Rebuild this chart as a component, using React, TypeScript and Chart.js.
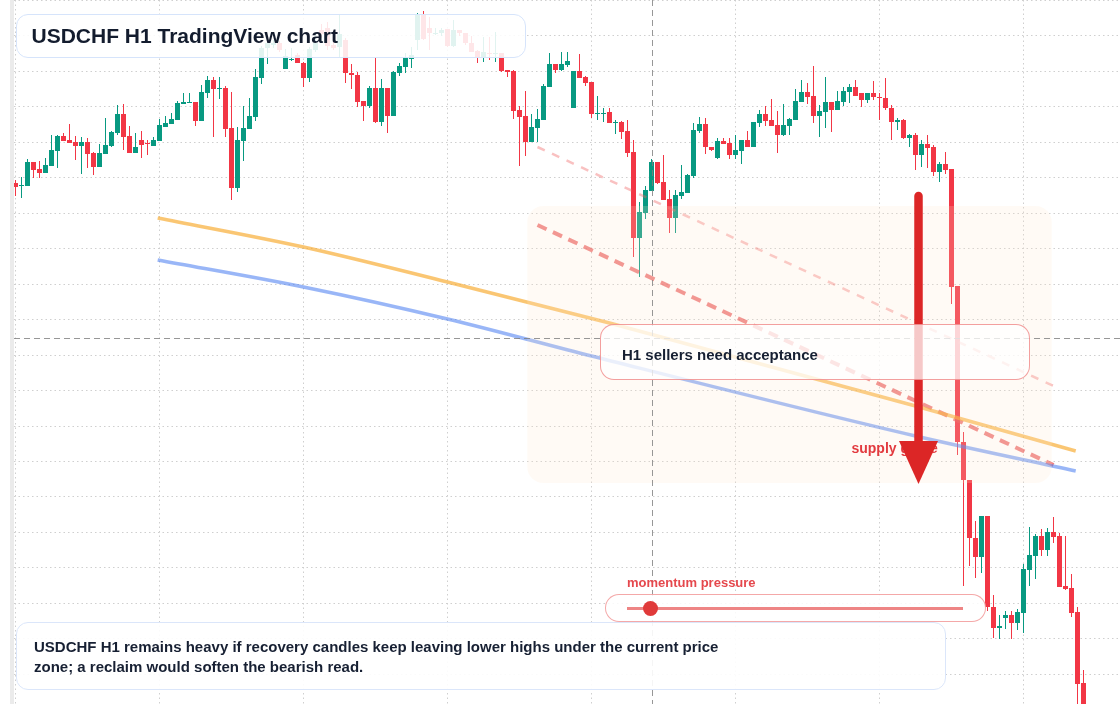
import { useEffect, useRef } from "react"
import { Chart, registerables } from "chart.js"

Chart.register(...registerables)

// USDCHF H1 candles (one candle per hour)
const opens = [
    0.80117, 0.80114, 0.80114, 0.80138, 0.80131, 0.80127, 0.80134, 0.80149, 0.80164, 0.80160,
    0.80158, 0.80154, 0.80158, 0.80147, 0.80133, 0.80146, 0.80154, 0.80167, 0.80186, 0.80164,
    0.80147, 0.80160, 0.80157, 0.80154, 0.80159, 0.80173, 0.80176, 0.80180, 0.80196, 0.80197,
    0.80198, 0.80179, 0.80207, 0.80220, 0.80211, 0.80212, 0.80172, 0.80112, 0.80159, 0.80171,
    0.80183, 0.80222, 0.80252, 0.80255, 0.80257, 0.80231, 0.80240, 0.80245, 0.80237, 0.80222,
    0.80250, 0.80270, 0.80272, 0.80255, 0.80253, 0.80260, 0.80227, 0.80225, 0.80199, 0.80194,
    0.80212, 0.80178, 0.80212, 0.80184, 0.80227, 0.80233, 0.80241, 0.80260, 0.80285, 0.80272,
    0.80266, 0.80267, 0.80271, 0.80254, 0.80270, 0.80267, 0.80257, 0.80249, 0.80242, 0.80247,
    0.80246, 0.80247, 0.80230, 0.80229, 0.80190, 0.80184, 0.80158, 0.80172, 0.80180, 0.80213,
    0.80236, 0.80230, 0.80235, 0.80192, 0.80229, 0.80223, 0.80218, 0.80186, 0.80186, 0.80188,
    0.80177, 0.80178, 0.80169, 0.80148, 0.80062, 0.80087, 0.80109, 0.80138, 0.80118, 0.80101,
    0.80082, 0.80104, 0.80107, 0.80124, 0.80169, 0.80176, 0.80153, 0.80142, 0.80159, 0.80157,
    0.80145, 0.80149, 0.80160, 0.80153, 0.80177, 0.80186, 0.80180, 0.80175, 0.80165, 0.80174,
    0.80180, 0.80198, 0.80208, 0.80204, 0.80184, 0.80188, 0.80198, 0.80190, 0.80198, 0.80208,
    0.80213, 0.80207, 0.80200, 0.80207, 0.80203, 0.80202, 0.80192, 0.80178, 0.80180, 0.80162,
    0.80165, 0.80145, 0.80156, 0.80153, 0.80128, 0.80136, 0.80131, 0.80014, 0.79858, 0.79820,
    0.79762, 0.79743, 0.79784, 0.79693, 0.79672, 0.79682, 0.79685, 0.79677, 0.79687, 0.79730,
    0.79744, 0.79764, 0.79750, 0.79768, 0.79764, 0.79714, 0.79712, 0.79688, 0.79617
]

const highs = [
    0.80120, 0.80123, 0.80141, 0.80138, 0.80139, 0.80142, 0.80165, 0.80165, 0.80167, 0.80176,
    0.80164, 0.80163, 0.80162, 0.80148, 0.80156, 0.80182, 0.80169, 0.80195, 0.80196, 0.80174,
    0.80167, 0.80169, 0.80160, 0.80163, 0.80181, 0.80184, 0.80187, 0.80199, 0.80207, 0.80207,
    0.80198, 0.80215, 0.80224, 0.80223, 0.80223, 0.80214, 0.80208, 0.80173, 0.80194, 0.80202,
    0.80231, 0.80254, 0.80258, 0.80260, 0.80259, 0.80251, 0.80252, 0.80247, 0.80238, 0.80253,
    0.80268, 0.80276, 0.80278, 0.80260, 0.80285, 0.80262, 0.80236, 0.80228, 0.80199, 0.80214,
    0.80242, 0.80221, 0.80212, 0.80229, 0.80237, 0.80247, 0.80253, 0.80287, 0.80289, 0.80283,
    0.80272, 0.80272, 0.80271, 0.80280, 0.80270, 0.80267, 0.80264, 0.80250, 0.80263, 0.80263,
    0.80268, 0.80247, 0.80230, 0.80230, 0.80194, 0.80209, 0.80186, 0.80191, 0.80216, 0.80247,
    0.80236, 0.80248, 0.80248, 0.80229, 0.80246, 0.80224, 0.80218, 0.80204, 0.80192, 0.80192,
    0.80180, 0.80179, 0.80180, 0.80160, 0.80098, 0.80114, 0.80141, 0.80138, 0.80145, 0.80110,
    0.80110, 0.80135, 0.80126, 0.80177, 0.80183, 0.80182, 0.80153, 0.80162, 0.80162, 0.80162,
    0.80165, 0.80160, 0.80169, 0.80178, 0.80190, 0.80194, 0.80201, 0.80189, 0.80196, 0.80182,
    0.80211, 0.80220, 0.80217, 0.80234, 0.80195, 0.80223, 0.80198, 0.80209, 0.80213, 0.80216,
    0.80220, 0.80207, 0.80207, 0.80219, 0.80207, 0.80222, 0.80195, 0.80182, 0.80181, 0.80166,
    0.80167, 0.80160, 0.80165, 0.80155, 0.80138, 0.80148, 0.80131, 0.80014, 0.79868, 0.79820,
    0.79779, 0.79784, 0.79784, 0.79705, 0.79685, 0.79689, 0.79689, 0.79691, 0.79736, 0.79773,
    0.79766, 0.79771, 0.79772, 0.79783, 0.79767, 0.79764, 0.79726, 0.79693, 0.79630
]

const lows = [
    0.80104, 0.80102, 0.80114, 0.80122, 0.80122, 0.80127, 0.80134, 0.80132, 0.80159, 0.80157,
    0.80140, 0.80126, 0.80132, 0.80125, 0.80133, 0.80146, 0.80153, 0.80165, 0.80150, 0.80147,
    0.80147, 0.80142, 0.80145, 0.80154, 0.80159, 0.80173, 0.80176, 0.80180, 0.80196, 0.80197,
    0.80174, 0.80179, 0.80202, 0.80163, 0.80201, 0.80163, 0.80100, 0.80108, 0.80139, 0.80171,
    0.80179, 0.80216, 0.80236, 0.80252, 0.80248, 0.80231, 0.80239, 0.80237, 0.80213, 0.80218,
    0.80248, 0.80262, 0.80250, 0.80250, 0.80242, 0.80217, 0.80211, 0.80193, 0.80179, 0.80192,
    0.80177, 0.80174, 0.80167, 0.80184, 0.80224, 0.80227, 0.80232, 0.80250, 0.80260, 0.80250,
    0.80265, 0.80264, 0.80253, 0.80253, 0.80264, 0.80255, 0.80248, 0.80237, 0.80238, 0.80240,
    0.80238, 0.80228, 0.80223, 0.80181, 0.80134, 0.80144, 0.80158, 0.80158, 0.80180, 0.80213,
    0.80227, 0.80229, 0.80233, 0.80192, 0.80222, 0.80214, 0.80182, 0.80180, 0.80178, 0.80177,
    0.80166, 0.80161, 0.80143, 0.80043, 0.80023, 0.80081, 0.80109, 0.80116, 0.80100, 0.80067,
    0.80067, 0.80101, 0.80107, 0.80122, 0.80167, 0.80146, 0.80149, 0.80141, 0.80156, 0.80141,
    0.80141, 0.80136, 0.80153, 0.80153, 0.80173, 0.80174, 0.80174, 0.80147, 0.80164, 0.80165,
    0.80180, 0.80198, 0.80196, 0.80177, 0.80163, 0.80172, 0.80168, 0.80190, 0.80194, 0.80197,
    0.80204, 0.80193, 0.80197, 0.80200, 0.80180, 0.80190, 0.80160, 0.80170, 0.80161, 0.80153,
    0.80130, 0.80133, 0.80132, 0.80124, 0.80118, 0.80126, 0.79996, 0.79845, 0.79714, 0.79734,
    0.79722, 0.79727, 0.79689, 0.79662, 0.79661, 0.79671, 0.79661, 0.79670, 0.79667, 0.79714,
    0.79721, 0.79744, 0.79744, 0.79757, 0.79713, 0.79710, 0.79683, 0.79596, 0.79580
]

const closes = [
    0.80113, 0.80115, 0.80138, 0.80130, 0.80127, 0.80135, 0.80150, 0.80164, 0.80159, 0.80157,
    0.80154, 0.80158, 0.80146, 0.80133, 0.80147, 0.80155, 0.80168, 0.80186, 0.80163, 0.80147,
    0.80153, 0.80155, 0.80156, 0.80160, 0.80175, 0.80177, 0.80181, 0.80197, 0.80198, 0.80198,
    0.80179, 0.80208, 0.80220, 0.80211, 0.80212, 0.80171, 0.80112, 0.80160, 0.80172, 0.80184,
    0.80223, 0.80252, 0.80257, 0.80257, 0.80250, 0.80244, 0.80241, 0.80237, 0.80222, 0.80251,
    0.80257, 0.80266, 0.80254, 0.80252, 0.80266, 0.80227, 0.80225, 0.80198, 0.80194, 0.80212,
    0.80178, 0.80212, 0.80184, 0.80228, 0.80234, 0.80242, 0.80245, 0.80285, 0.80261, 0.80267,
    0.80267, 0.80270, 0.80254, 0.80270, 0.80267, 0.80257, 0.80248, 0.80242, 0.80248, 0.80246,
    0.80247, 0.80229, 0.80228, 0.80189, 0.80183, 0.80158, 0.80173, 0.80181, 0.80214, 0.80236,
    0.80230, 0.80236, 0.80239, 0.80229, 0.80222, 0.80217, 0.80186, 0.80187, 0.80187, 0.80177,
    0.80178, 0.80168, 0.80147, 0.80062, 0.80088, 0.80110, 0.80138, 0.80117, 0.80100, 0.80082,
    0.80105, 0.80108, 0.80125, 0.80170, 0.80176, 0.80153, 0.80150, 0.80159, 0.80156, 0.80145,
    0.80150, 0.80160, 0.80153, 0.80178, 0.80186, 0.80179, 0.80174, 0.80165, 0.80175, 0.80181,
    0.80199, 0.80208, 0.80203, 0.80184, 0.80189, 0.80198, 0.80190, 0.80199, 0.80209, 0.80213,
    0.80204, 0.80200, 0.80207, 0.80203, 0.80202, 0.80192, 0.80178, 0.80180, 0.80162, 0.80165,
    0.80145, 0.80156, 0.80152, 0.80128, 0.80136, 0.80130, 0.80013, 0.79858, 0.79820, 0.79762,
    0.79743, 0.79784, 0.79693, 0.79672, 0.79674, 0.79685, 0.79677, 0.79688, 0.79731, 0.79745,
    0.79764, 0.79750, 0.79768, 0.79763, 0.79713, 0.79711, 0.79687, 0.79616, 0.79585
]

// slow averages (orange / blue), as points along the candle index
const orangeIdx = [23.7, 48, 72, 99, 150, 176.7]
const orangeMa = [0.80082, 0.80053, 0.80018, 0.79977, 0.79894, 0.79849]
const blueIdx = [23.7, 48, 72, 96, 150, 176.7]
const blueMa = [0.80040, 0.80013, 0.79981, 0.79944, 0.79864, 0.79829]

// descending trend lines
const trendIdx = [87, 173]
const upperTrend = [0.80153, 0.79914]
const lowerTrend = [0.80075, 0.79835]

// supply zone, crosshair and arrow
const zoneIdx = [85.3, 172.7]
const zonePrice = [0.80094, 0.79817]
const crossIdx = 106
const crossPrice = 0.79962
const arrowIdx = 150.5
const arrowPrice = [0.80104, 0.79816]
const supplyLabelIdx = 139.33
const supplyLabelPrice = 0.79847
const momentum = 0.07

const hourGrid = [0, 24, 48, 72, 96, 120, 144, 168]
const priceGrid = [
    0.80300, 0.802645, 0.80229, 0.801935, 0.80158, 0.801225, 0.80087, 0.800515, 0.80016, 0.799805,
    0.79945, 0.799095, 0.79874, 0.798385, 0.79803, 0.797675, 0.79732, 0.796965, 0.79661, 0.796255
]

const BULL = "#089981"
const BEAR = "#f23645"
const FONT = '"Liberation Sans", Arial, Helvetica, sans-serif'

const overlayPlugin = {
    id: "chartOverlays",
    beforeDatasetsDraw(chart) {
        const { ctx } = chart
        ctx.save()
        ctx.fillStyle = "#ebebeb"
        ctx.fillRect(10, 0, 4, chart.height)
        ctx.restore()
    },
    afterDatasetsDraw(chart) {
        const { ctx, chartArea } = chart
        const x = chart.scales.x
        const y = chart.scales.y
        ctx.save()

        // supply zone
        const zx0 = x.getPixelForValue(zoneIdx[0])
        const zx1 = x.getPixelForValue(zoneIdx[1])
        const zy0 = y.getPixelForValue(zonePrice[0])
        const zy1 = y.getPixelForValue(zonePrice[1])
        ctx.fillStyle = "rgba(255, 228, 205, 0.2)"
        ctx.beginPath()
        ctx.roundRect(zx0, zy0, zx1 - zx0, zy1 - zy0, 16)
        ctx.fill()

        // crosshair
        const cx = Math.round(x.getPixelForValue(crossIdx)) + 0.5
        const cy = Math.round(y.getPixelForValue(crossPrice)) + 0.5
        ctx.strokeStyle = "rgba(125, 125, 125, 0.8)"
        ctx.lineWidth = 1
        ctx.setLineDash([6, 4])
        ctx.beginPath()
        ctx.moveTo(chartArea.left, cy)
        ctx.lineTo(chartArea.right, cy)
        ctx.moveTo(cx, chartArea.top)
        ctx.lineTo(cx, chartArea.bottom)
        ctx.stroke()
        ctx.setLineDash([])

        // label under the arrow
        ctx.font = `bold 14px ${FONT}`
        ctx.fillStyle = "#e23a3f"
        ctx.textBaseline = "alphabetic"
        ctx.fillText("supply guide", x.getPixelForValue(supplyLabelIdx), y.getPixelForValue(supplyLabelPrice))

        // arrow
        const ax = x.getPixelForValue(arrowIdx)
        const ay0 = y.getPixelForValue(arrowPrice[0])
        const ay1 = y.getPixelForValue(arrowPrice[1])
        ctx.strokeStyle = "#dc2626"
        ctx.fillStyle = "#dc2626"
        ctx.lineWidth = 8.5
        ctx.lineCap = "round"
        ctx.beginPath()
        ctx.moveTo(ax, ay0)
        ctx.lineTo(ax, ay1 - 38)
        ctx.stroke()
        ctx.beginPath()
        ctx.moveTo(ax - 19.5, ay1 - 43)
        ctx.lineTo(ax + 19.5, ay1 - 43)
        ctx.lineTo(ax, ay1)
        ctx.closePath()
        ctx.fill()

        ctx.restore()
    }
}

function CandleChart() {
    const canvasRef = useRef<HTMLCanvasElement>(null)

    useEffect(() => {
        const idx = opens.map((_, i) => i)
        const colors = idx.map(i => (closes[i] >= opens[i] ? BULL : BEAR))

        const chart = new Chart(canvasRef.current, {
            type: "bar",
            data: {
                datasets: [
                    {
                        type: "line",
                        data: orangeIdx.map((v, i) => ({ x: v, y: orangeMa[i] })),
                        borderColor: "rgba(247, 168, 40, 0.65)",
                        borderWidth: 3.5,
                        pointRadius: 0,
                        cubicInterpolationMode: "monotone",
                        order: 1
                    },
                    {
                        type: "line",
                        data: blueIdx.map((v, i) => ({ x: v, y: blueMa[i] })),
                        borderColor: "rgba(70, 122, 240, 0.55)",
                        borderWidth: 3.5,
                        pointRadius: 0,
                        cubicInterpolationMode: "monotone",
                        order: 1
                    },
                    {
                        type: "line",
                        data: trendIdx.map((v, i) => ({ x: v, y: upperTrend[i] })),
                        borderColor: "rgba(240, 100, 100, 0.4)",
                        borderWidth: 2.5,
                        borderDash: [8, 8],
                        pointRadius: 0,
                        order: 1
                    },
                    {
                        type: "line",
                        data: trendIdx.map((v, i) => ({ x: v, y: lowerTrend[i] })),
                        borderColor: "rgba(232, 80, 80, 0.7)",
                        borderWidth: 4,
                        borderDash: [10, 7],
                        pointRadius: 0,
                        order: 1
                    },
                    {
                        type: "bar",
                        data: idx.map(i => ({ x: i, y: [opens[i], closes[i]] })),
                        backgroundColor: colors,
                        barThickness: 5,
                        minBarLength: 1,
                        inflateAmount: 0,
                        grouped: false,
                        order: 2
                    },
                    {
                        type: "bar",
                        data: idx.map(i => ({ x: i, y: [lows[i], highs[i]] })),
                        backgroundColor: colors,
                        barThickness: 1,
                        inflateAmount: 0,
                        grouped: false,
                        order: 3
                    }
                ]
            },
            options: {
                animation: false,
                responsive: false,
                events: [],
                layout: { padding: { left: 14, right: 0, top: 0, bottom: 0 } },
                plugins: {
                    legend: { display: false },
                    tooltip: { enabled: false }
                },
                scales: {
                    x: {
                        type: "linear",
                        offset: false,
                        min: -0.25,
                        max: 184.083,
                        afterBuildTicks: scale => {
                            scale.ticks = hourGrid.map(v => ({ value: v }))
                        },
                        ticks: { display: false },
                        grid: { color: "#cfcfcf", drawTicks: false, offset: false },
                        border: { display: false, dash: [1.5, 3] }
                    },
                    y: {
                        type: "linear",
                        min: 0.79596,
                        max: 0.80300,
                        afterBuildTicks: scale => {
                            scale.ticks = priceGrid.map(v => ({ value: v }))
                        },
                        ticks: { display: false },
                        grid: { color: "#cfcfcf", drawTicks: false },
                        border: { display: false, dash: [1.5, 3] }
                    }
                }
            },
            plugins: [overlayPlugin]
        })

        return () => chart.destroy()
    }, [])

    return <canvas ref={canvasRef} width={1120} height={704} style={{ position: "absolute", left: 0, top: 0 }} />
}

export default function App() {
    const trackLeft = 627
    const trackWidth = 336

    return (
        <div style={{ position: "absolute", left: 0, top: 0, width: 1120, height: 704, background: "#fff", overflow: "hidden", fontFamily: FONT }}>
            <CandleChart />

            <div style={{ position: "absolute", left: 16, top: 14, width: 510, height: 44, boxSizing: "border-box", border: "1.5px solid #d6e4fb", borderRadius: 12, background: "rgba(255,255,255,0.88)", paddingLeft: 14.5, display: "flex", alignItems: "center", font: `bold 21px ${FONT}`, color: "#131c2e" }}>
                USDCHF H1 TradingView chart
            </div>

            <div style={{ position: "absolute", left: 600, top: 324, width: 430, height: 56, boxSizing: "border-box", border: "1px solid rgba(235,95,95,0.6)", borderRadius: 14, background: "rgba(255,255,255,0.75)", paddingLeft: 21, paddingTop: 4, display: "flex", alignItems: "center", font: `bold 15px ${FONT}`, color: "#172033" }}>
                H1 sellers need acceptance
            </div>

            <div style={{ position: "absolute", left: 627, top: 575, font: `bold 13px/16px ${FONT}`, color: "#e5484d", whiteSpace: "nowrap" }}>
                momentum pressure
            </div>
            <div style={{ position: "absolute", left: 605, top: 594, width: 381, height: 28, boxSizing: "border-box", border: "1.5px solid rgba(236,110,110,0.6)", borderRadius: 14, background: "rgba(255,255,255,0.85)" }} />
            <div style={{ position: "absolute", left: trackLeft, top: 606.5, width: trackWidth, height: 3, background: "#ee8585" }} />
            <div style={{ position: "absolute", left: trackLeft + momentum * trackWidth - 7.5, top: 600.5, width: 15, height: 15, borderRadius: "50%", background: "#e03a3a" }} />

            <div style={{ position: "absolute", left: 16, top: 622, width: 930, height: 68, boxSizing: "border-box", border: "1.5px solid #dbe6fa", borderRadius: 12, background: "rgba(255,255,255,0.9)", padding: "14px 0 0 17px" }}>
                <div style={{ width: 705, font: `bold 15px/20px ${FONT}`, color: "#172033" }}>
                    USDCHF H1 remains heavy if recovery candles keep leaving lower highs under the current price zone; a reclaim would soften the bearish read.
                </div>
            </div>
        </div>
    )
}
